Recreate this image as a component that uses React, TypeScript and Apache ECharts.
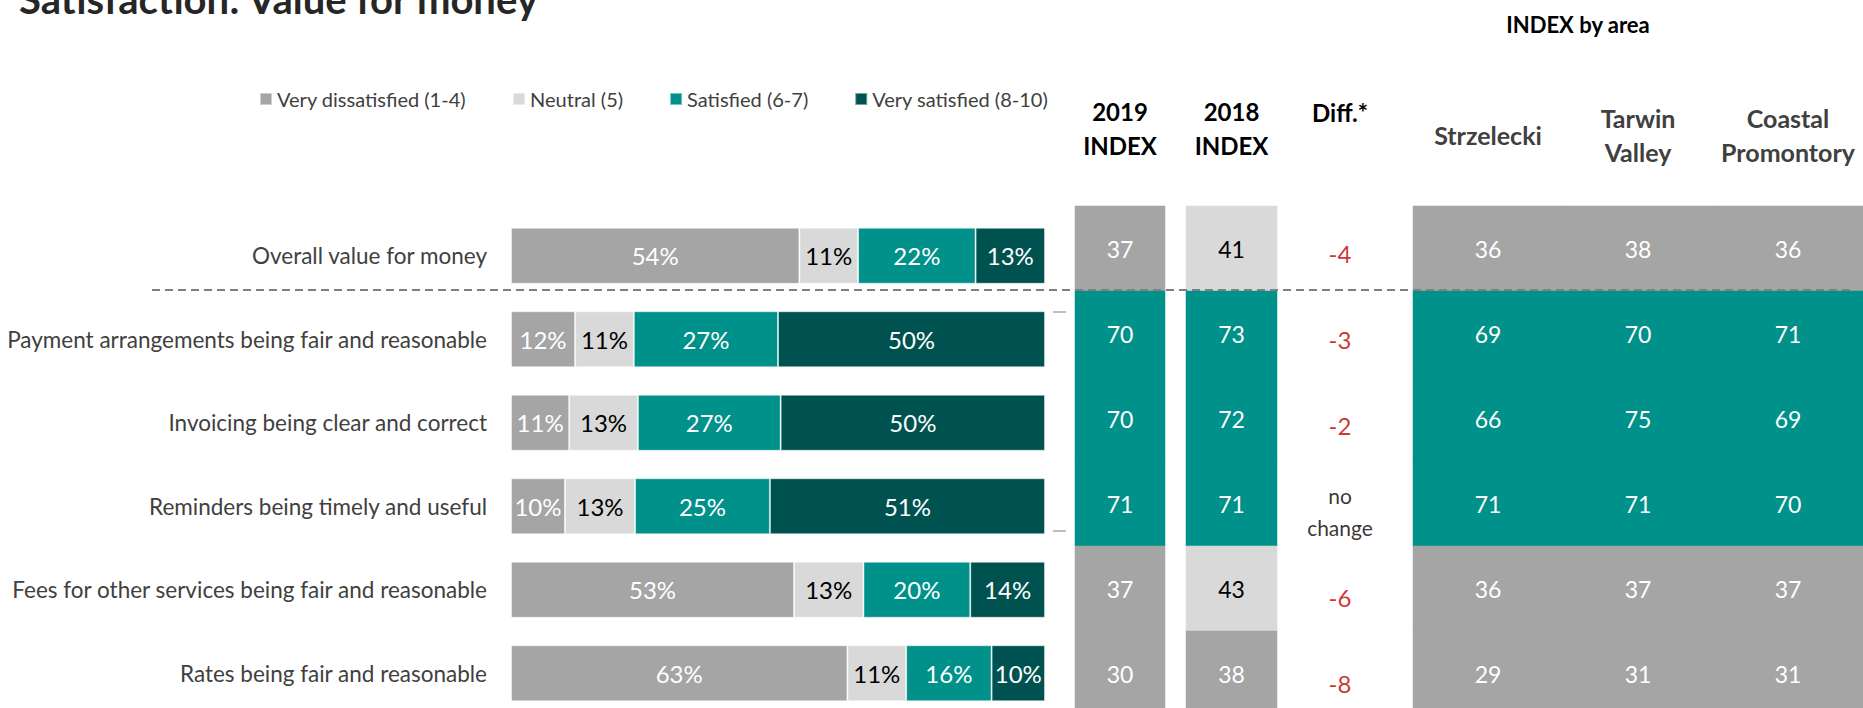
import React, { useEffect, useRef } from "react";
import * as echarts from "echarts";

const categories = [
  "Overall value for money",
  "Payment arrangements being fair and reasonable",
  "Invoicing being clear and correct",
  "Reminders being timely and useful",
  "Fees for other services being fair and reasonable",
  "Rates being fair and reasonable",
];
const seriesNames = [
  "Very dissatisfied (1-4)",
  "Neutral (5)",
  "Satisfied (6-7)",
  "Very satisfied (8-10)",
];
const veryDissatisfied = [54, 12, 11, 10, 53, 63];
const neutral = [11, 11, 13, 13, 13, 11];
const satisfied = [22, 27, 27, 25, 20, 16];
const verySatisfied = [13, 50, 50, 51, 14, 10];

const index2019 = [37, 70, 70, 71, 37, 30];
const index2018 = [41, 73, 72, 71, 43, 38];
const diffs = [-4, -3, -2, 0, -6, -8];

const areaNames = ["Strzelecki", "Tarwin\nValley", "Coastal\nPromontory"];
const strzelecki = [36, 69, 66, 71, 36, 29];
const tarwinValley = [38, 70, 75, 71, 37, 31];
const coastalPromontory = [36, 71, 69, 70, 37, 31];

const COLORS = ["#A5A5A5", "#D9D9D9", "#00918A", "#005250"];
const FONT = "Lato";
// chart canvas is taller than the 708px viewport so the last row can run past the bottom edge
const H = 760;

export default function App() {
  const ref = useRef<HTMLDivElement>(null);

  useEffect(() => {
    if (!ref.current) return;
    const chart = echarts.init(ref.current, undefined, { renderer: "svg" });

    const stacks = [veryDissatisfied, neutral, satisfied, verySatisfied];
    const rowSums = categories.map((_, r) =>
      stacks.reduce((s, a) => s + a[r], 0)
    );

    const barSeries = stacks.map((arr, si) => ({
      name: seriesNames[si],
      type: "bar",
      stack: "total",
      xAxisIndex: 0,
      yAxisIndex: 0,
      barWidth: 56,
      itemStyle: {
        color: COLORS[si],
        borderColor: "rgba(255,255,255,0.45)",
        borderWidth: 1,
      },
      label: {
        show: true,
        position: "inside",
        fontFamily: FONT,
        fontSize: 24,
        color: si === 1 ? "#000000" : "#FFFFFF",
        formatter: (p: any) => arr[p.dataIndex] + "%",
      },
      emphasis: { disabled: true },
      data: arr.map((v, r) => (v / rowSums[r]) * 100),
    }));

    const cellLabel = (v: number) => ({
      color: v >= 40 && v < 60 ? "#000000" : "#FFFFFF",
    });

    const heat = (name: string, xi: number, data: number[][]) => ({
      name,
      type: "heatmap",
      xAxisIndex: xi,
      yAxisIndex: xi,
      label: {
        show: true,
        fontFamily: FONT,
        fontSize: 23,
        offset: [0, 0],
      },
      emphasis: { disabled: true },
      data: data.map((d) => ({
        value: d,
        label: cellLabel(d[2]),
      })),
    });

    const areaData: number[][] = [];
    [strzelecki, tarwinValley, coastalPromontory].forEach((arr, j) =>
      arr.forEach((v, i) => areaData.push([j, i, v]))
    );

    const hiddenY = () => ({
      type: "category",
      data: categories,
      inverse: true,
      show: false,
    });

    const headerX = (
      grid: number,
      data: string[],
      margin: number,
      color: string,
      fontSize: number
    ) => ({
      type: "category",
      gridIndex: grid,
      data,
      position: "top",
      axisLine: { show: false },
      axisTick: { show: false },
      splitLine: { show: false },
      axisLabel: {
        interval: 0,
        fontFamily: FONT,
        fontWeight: "bold",
        fontSize,
        lineHeight: 34,
        color,
        verticalAlign: "middle",
        margin,
      },
    });

    const option: any = {
      animation: false,
      backgroundColor: "#FFFFFF",
      title: {
        text: "Satisfaction: Value for money",
        left: 14,
        top: -26,
        textStyle: {
          fontFamily: FONT,
          fontWeight: "bold",
          fontSize: 40,
          color: "#262626",
        },
      },
      legend: {
        data: seriesNames,
        left: 254,
        top: 84,
        icon: "rect",
        itemWidth: 12,
        itemHeight: 12,
        itemGap: 46,
        selectedMode: false,
        textStyle: { fontFamily: FONT, fontSize: 20, color: "#404040" },
      },
      visualMap: {
        type: "piecewise",
        show: false,
        seriesIndex: [4, 5, 7],
        dimension: 2,
        pieces: [
          { min: 0, max: 39.99, color: COLORS[0] },
          { min: 40, max: 59.99, color: COLORS[1] },
          { min: 60, max: 79.99, color: COLORS[2] },
          { min: 80, max: 100, color: COLORS[3] },
        ],
      },
      grid: [
        { left: 511, right: 818, top: 214, bottom: H - 715, outerBoundsMode: "none" },
        { left: 1075, right: 698, top: 206, bottom: H - 716, outerBoundsMode: "none" },
        { left: 1186, right: 586, top: 206, bottom: H - 716, outerBoundsMode: "none" },
        { left: 1295, right: 478, top: 210, bottom: H - 726, outerBoundsMode: "none" },
        { left: 1413, right: 0, top: 206, bottom: H - 716, outerBoundsMode: "none" },
      ],
      xAxis: [
        { type: "value", gridIndex: 0, min: 0, max: 100, show: false },
        headerX(1, ["2019\nINDEX"], 78, "#000000", 24),
        headerX(2, ["2018\nINDEX"], 78, "#000000", 24),
        headerX(3, ["Diff.*"], 98, "#000000", 24),
        headerX(4, areaNames, 71, "#404040", 25),
      ],
      yAxis: [
        {
          type: "category",
          gridIndex: 0,
          data: categories,
          inverse: true,
          axisLine: { show: false },
          axisTick: { show: false },
          axisLabel: {
            fontFamily: FONT,
            fontSize: 22.5,
            color: "#404040",
            margin: 24,
          },
        },
        { ...hiddenY(), gridIndex: 1 },
        { ...hiddenY(), gridIndex: 2 },
        { ...hiddenY(), gridIndex: 3 },
        { ...hiddenY(), gridIndex: 4 },
      ],
      series: [
        ...barSeries,
        heat("2019 INDEX", 1, index2019.map((v, i) => [0, i, v])),
        heat("2018 INDEX", 2, index2018.map((v, i) => [0, i, v])),
        {
          name: "Diff",
          type: "scatter",
          xAxisIndex: 3,
          yAxisIndex: 3,
          symbolSize: 1,
          itemStyle: { color: "rgba(0,0,0,0)" },
          emphasis: { disabled: true },
          label: {
            show: true,
            position: "inside",
            fontFamily: FONT,
            fontSize: 24,
            lineHeight: 32,
            formatter: (p: any) =>
              p.value[2] === 0 ? "no\nchange" : String(p.value[2]),
          },
          data: diffs.map((d, i) => ({
            value: [0, i, d],
            label:
              d === 0
                ? { color: "#000000", fontSize: 21 }
                : { color: "#C00000" },
          })),
        },
        heat("INDEX by area", 4, areaData),
      ],
      graphic: [
        {
          type: "text",
          x: 1578,
          y: 24,
          z: 100,
          style: {
            text: "INDEX by area",
            fontFamily: FONT,
            fontWeight: "bold",
            fontSize: 22,
            fill: "#000000",
            align: "center",
            verticalAlign: "middle",
          },
        },
        {
          type: "line",
          z: 100,
          shape: { x1: 152, y1: 290, x2: 1855, y2: 290 },
          style: { stroke: "#7F7F7F", lineWidth: 2, lineDash: [8, 5] },
        },
        {
          type: "line",
          z: 100,
          shape: { x1: 1053, y1: 312, x2: 1066, y2: 312 },
          style: { stroke: "#BFBFBF", lineWidth: 2 },
        },
        {
          type: "line",
          z: 100,
          shape: { x1: 1053, y1: 531, x2: 1066, y2: 531 },
          style: { stroke: "#BFBFBF", lineWidth: 2 },
        },
      ],
    };

    chart.setOption(option);
    return () => chart.dispose();
  }, []);

  return (
    <div
      ref={ref}
      style={{ position: "fixed", left: 0, top: 0, width: 1863, height: H }}
    />
  );
}
